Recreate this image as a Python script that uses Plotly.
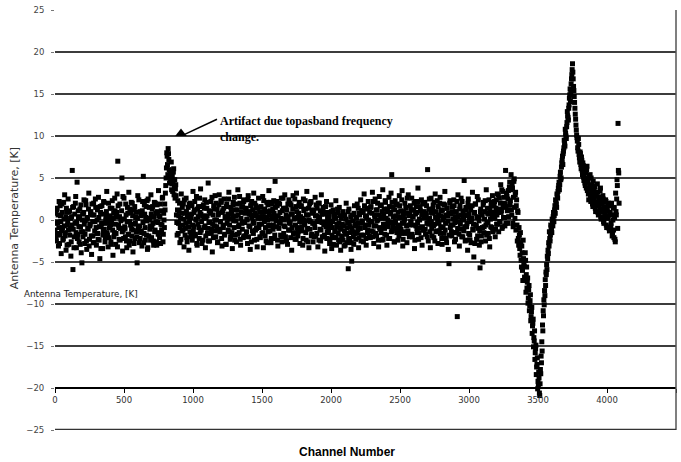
import plotly.graph_objects as go

STEP = 5  # channel spacing of the sampled points in each list

# ---- first pass of samples (channels start, start+5, ...) ----
seg_a_start = 0
seg_a = [
    -1.2, 0.8, -2.5, 1.4, -0.3, -3.1, 2.2, -1.8, 0.5, -4.0, 1.9, -0.9, -2.2, 0.1, 3.0, -1.5, -3.6, 0.9, -0.6, 2.5,
    -2.9, 1.1, -1.0, -4.3, 0.4, 5.9, -5.9, 1.6, -2.0, -0.4, 2.8, -3.3, 4.5, -1.7, 0.2, -2.6, 1.3, -0.8, -3.9, -5.1,
    0.7, -1.4, 2.4, -2.8, -0.1, 1.8, -3.5, 0.3, -1.1, 3.2, -2.3, -0.5, 1.0, -4.1, 0.6, -1.9, 2.0, -2.7, -0.2, 1.5,
    -3.0, 0.0, -1.6, 2.7, -2.4, -4.6, 0.9, -0.7, 1.7, -3.4, -1.3, 2.1, -0.4, -2.1, 0.5, 3.4, -1.8, -3.2, 0.2, -0.9,
    1.4, -2.6, -0.3, 2.3, -4.2, 0.8, -1.5, 1.1, -2.9, 0.4, 3.1, 7.0, -0.6, -2.3, 1.9, -1.0, 0.1, 5.0, -3.7, -1.2,
    2.6, -0.8, -2.0, 0.6, -3.3, 1.5, -1.7, 3.3, -0.2, -2.5, 0.9, -1.1, 2.0, -3.8, -0.5, 1.2, -2.2, 0.3, -1.4, -5.1,
    2.9, -0.9, -2.7, 1.0, -1.3, 0.5, -3.1, 2.2, 5.2, -1.6, 0.7, -2.4, 1.6, -0.1, -3.5, 2.5, -1.9, 0.2, -0.7, 3.0,
    -2.1, 1.3, -0.4, -3.0, 2.1, -1.2, 0.8, -2.6, 1.8, -0.3, 3.5, -1.5, 0.4, -2.8, 1.1, -0.6, 2.7, -1.7, 0.0, 1.9,
]

seg_b_start = 800
seg_b = [3.2, 5.0, 8.0, 6.6, 8.5, 7.2, 4.4, 5.8, 4.9, 3.6, 5.3, 4.6, 6.1, 3.9, 2.6, 4.2]

seg_c_start = 880
seg_c = [
    0.6, -1.8, 2.3, -0.4, 1.1, -2.7, 0.2, 3.1, -1.3, -0.6, 1.9, -3.2, 0.8, -1.0, 2.6, -2.1, 0.4, 1.5, -3.6, -0.2,
    2.0, -1.5, 0.7, -2.4, 3.4, -0.8, 1.2, -1.9, 0.1, 2.8, -3.0, -0.5, 1.6, -2.2, 0.9, 3.7, -1.2, -2.8, 0.5, 1.8,
    -0.9, 2.4, -3.3, 0.3, 1.4, -1.6, 4.4, -0.3, -2.5, 1.0, 2.2, -1.1, -3.8, 0.6, 1.7, -0.7, 2.9, -2.0, 0.0, 1.3,
    -2.6, 0.8, 3.0, -1.4, -0.2, 2.1, -3.1, 1.1, -0.9, 2.5, -1.7, 0.4, -2.9, 1.9, 0.2, -1.2, 3.3, -0.6, -2.3, 1.5,
    0.7, -3.4, 1.8, -0.1, 2.7, -1.8, 0.5, -2.6, 1.2, 3.6, -0.8, -1.5, 2.0, -3.0, 0.9, -0.4, 1.6, -2.1, 2.4, -0.3,
    -1.9, 1.4, 0.1, -2.8, 2.9, -0.7, 1.0, -3.5, 0.6, 2.2, -1.3, -0.2, 3.2, -2.4, 0.8, 1.7, -1.0, -3.2, 0.3, 2.6,
    -0.5, -2.0, 1.5, 0.2, -1.6, 2.8, -3.3, 0.9, 1.3, -0.9, -2.5, 2.1, 0.0, -1.4, 3.5, -0.6, 1.1, -2.7, 0.5, 1.9,
    -1.1, 2.3, -2.2, 4.6, 0.4, -0.8, 1.7, -3.1, 2.0, -0.3, 0.9, -1.8, 2.6, -2.6, 0.1, 1.4, -0.7, 3.0, -2.0, 0.6,
    1.2, -2.9, 0.3, 2.4, -1.2, -0.4, 1.8, -3.6, 0.7, 2.9, -1.5, 0.2, -2.3, 1.6, 3.2, -0.9, -1.9, 0.8, 2.1, -2.8,
    0.4, 1.7, -1.3, -3.0, 2.5, 0.0, -0.6, 1.3, -2.4, 3.4, -1.0, 0.6, -3.3, 1.9, -0.2, 2.2, -1.7, 0.9, -2.6, 1.1,
    -0.4, 2.7, -1.9, 0.5, 1.4, -3.2, 0.1, 2.0, -1.1, -2.5, 3.0, -0.3, 1.0, -2.0, 0.7, -3.7, 1.6, -0.8, -2.2, 0.3,
    -1.5, 0.9, -2.8, -0.2, 1.8, -3.4, -0.9, 1.2, -2.1, 0.4, -1.3, 2.3, -3.0, -0.5, 0.8, -2.4, 1.5, -1.0, -3.6, 0.2,
    -2.0, 1.0, -0.7, -3.1, 0.5, -1.6, 2.0, -2.7, -0.3, -5.8, 1.3, -2.2, -0.8, -3.5, -4.9, 0.6, -1.4, -2.9, 1.7, -0.5,
    -2.3, 0.3, 1.9, -1.2, -3.3, 0.8, -0.4, 2.4, -1.8, -0.1, 1.1, -2.6, 3.1, -0.9, 0.5, -3.0, 1.4, -1.5, 2.2, -0.6,
    0.9, -2.1, 1.6, -0.2, 3.3, -1.4, -2.8, 0.6, 2.5, -0.7, -1.9, 1.2, 0.0, -3.2, 2.8, -1.1, 0.4, 1.8, -2.4, 3.6,
    -0.5, 1.3, -1.7, 2.1, 0.2, -3.0, 1.0, -0.8, 2.7, -2.2, 0.7, 3.2, 5.4, -1.3, 1.5, -0.3, -2.6, 2.3, 0.5, -1.0,
    1.9, -2.4, 0.3, 2.9, -0.9, 1.1, -1.6, 3.5, -3.1, 0.6, -0.2, 2.0, -1.4, 1.4, -2.7, 0.8, 3.0, -0.6, -1.8, 1.7,
    -0.3, 2.6, -2.0, 0.4, 1.2, -3.4, 2.2, -0.7, 0.9, -1.5, 3.8, -2.3, 0.1, 1.6, -0.9, 2.4, -3.0, 0.7, -1.2, 1.0,
    2.1, -1.7, 0.5, -0.4, 6.0, -2.5, 1.3, 0.2, -3.3, 2.6, -1.0, 0.8, 1.8, -2.1, -0.5, 3.1, -1.4, 0.3, 2.3, -2.8,
    0.6, -1.3, 2.7, -0.8, 1.1, -2.9, 0.0, 1.9, -1.6, 3.4, -0.4, -2.2, 1.4, 0.5, -3.5, -5.2, 2.0, -0.9, 0.7, -1.9,
    1.5, -0.6, 2.4, -2.6, 0.3, 1.0, -1.5, -11.5, 3.0, -0.2, -3.1, 1.7, 0.6, -1.1, 2.2, -2.0, 0.1, 4.7, -0.8, -2.4,
    1.2, -0.4, -3.6, 2.5, 0.7, -1.8, 1.6, -2.7, 0.2, 3.3, -1.2, -4.4, 0.9, 1.9, -0.6, -2.3, 2.8, -1.0, 0.4, -3.0,
    -5.7, 1.3, -1.9, 0.6, -5.0, 2.1, -0.8, 1.0, -2.5, 3.6, -0.3, 0.8, -1.6, 2.4, -3.2, 0.1, 1.7, -0.9, 2.9, -1.3,
    0.5, 2.2, -2.0, 1.4, -0.5, 3.1, 0.9, -1.4, 2.6, -0.2, 4.2, 1.1, -1.0, 3.4, 0.3, 2.0, -0.7, 5.9, 1.6, 2.8,
    -0.4, 3.5, 1.2, 4.5,
]

seg_d_start = 3300
seg_d = [2.3, 5.4, 0.6, 3.8, -0.8, 4.6, 1.5, 3.0, -1.2, 2.4, -2.5, 0.9, -3.0, -1.8, -4.2, -2.7, -5.6, -3.9, -7.2, -4.6]

seg_e_start = 3400
seg_e = [
    -5.5, -7.2, -4.8, -6.5, -8.1, -6.9, -9.3, -7.8, -10.2, -8.9, -11.5, -10.4, -12.6, -11.8, -14.0, -13.2,
    -15.8, -14.9, -17.5, -16.4, -19.2, -18.1, -20.6, -19.5, -18.3, -17.0, -15.6, -13.2, -11.4, -10.1, -9.0,
    -7.8, -6.5, -5.9, -4.6, -4.0, -3.1, -2.2, -1.8, -0.9, -1.5, -0.3, 0.4, -0.2, 1.2, 0.8, 2.0, 1.5, 2.9,
    3.4, 4.1, 3.6, 5.2, 4.8, 6.3, 7.1, 6.6, 8.2, 9.5, 8.8, 10.3, 9.7, 11.6, 12.4, 11.9, 13.7, 14.9, 14.1,
    16.2, 17.3, 18.6, 16.8, 15.4, 14.0, 12.6, 11.3, 10.1, 9.4, 8.2, 9.0, 7.4, 8.1, 6.6, 7.5, 5.9, 6.8, 5.1,
    6.2, 4.4, 5.6, 3.8, 6.4, 4.9, 3.1, 5.3, 4.0, 2.7, 5.0, 3.4, 1.9, 4.6, 2.8, 3.9, 1.4, 3.2, 2.1, 4.3, 0.9,
    2.6, 1.7, 3.5, 0.4, 2.2, 1.1, 2.9, -0.2, 1.6, 0.7, 2.4, -0.6, 1.3, 0.2, 2.0, -1.0, 0.9, 1.8, -0.4, 0.6,
    -1.5, 1.4, -2.1, 0.3, -2.6, 1.0, 2.5, 4.1, 11.5, 5.6,
]

# ---- second pass of samples (channels offset by half a step) ----
seg_a2_start = 2.5
seg_a2 = [
    -0.4, -2.1, 1.2, -1.6, 0.6, -0.9, -2.8, 1.7, -0.2, -1.3, 0.9, -2.4, 2.1, -0.7, -1.9, 0.3, 1.4, -3.0, -0.1, -1.2,
    1.0, -1.8, 0.2, -2.6, -0.6, 1.5, -1.1, -3.3, 0.7, 2.0, -1.5, -0.3, -2.2, 1.1, -0.8, 0.4, -2.9, 1.8, -1.4, 0.0,
    -2.0, 0.9, -0.5, -1.7, 2.3, -2.5, 0.1, -1.0, 1.3, -3.1, -0.7, 0.8, -1.9, 1.9, -0.2, -2.7, 0.6, -1.3, 2.5, -0.9,
    -1.6, 1.2, -2.3, 0.3, -0.8, 1.6, -3.4, -0.4, 0.7, -1.8, 2.2, -1.1, -2.6, 0.0, 1.0, -1.5, -0.3, 2.0, -2.1, 0.5,
    -0.6, -2.9, 1.4, -1.2, 0.2, -2.0, 2.6, -0.5, -1.6, 0.9, -3.2, 1.7, -0.9, 0.4, -2.4, -0.1, 1.1, -1.4, 2.8, -2.2,
    0.1, -1.0, 1.9, -2.5, -0.2, 0.8, -1.7, -3.0, 1.3, -0.6, 2.1, -1.9, 0.5, -1.2, -2.8, 1.6, -0.4, 0.9, -2.0, 0.2,
    -1.3, 2.4, -0.7, -2.2, 0.6, -1.5, 1.1, -0.3, -2.7, 1.8, -0.9, 0.3, -1.8, 2.3, -3.3, 0.0, 1.5, -1.1, -2.4, 0.7,
    -0.8, 1.6, -2.5, 0.4, -1.4, 2.0, -0.2, -3.0, 1.0, -1.7, 0.5, -2.1, 1.9, -0.5, -1.2, 2.6, -2.6, 0.8, -0.9, 1.2,
]

seg_b2_start = 802.5
seg_b2 = [4.1, 6.2, 7.6, 5.4, 7.9, 6.0, 5.1, 4.7, 6.9, 4.3, 3.4, 5.7, 3.0, 4.8, 3.7, 2.9]

seg_c2_start = 882.5
seg_c2 = [
    -0.3, 1.2, -1.6, 0.5, 2.0, -0.9, -2.3, 0.8, 1.5, -1.2, 0.1, 2.4, -1.8, -0.4, 1.0, -2.6, 0.6, -0.8, 1.9, -1.4,
    0.3, -2.0, 1.7, -0.6, -1.3, 0.9, 2.2, -1.7, 0.0, -2.8, 1.3, 0.4, -0.9, 2.6, -1.5, 0.7, -0.2, 1.6, -2.4, 0.2,
    1.4, -0.7, -1.9, 2.1, 0.5, -1.0, -2.5, 1.1, -0.3, 0.8, -1.6, 2.7, -0.5, -2.1, 1.3, 0.0, -1.3, 2.0, -0.8, -2.7,
    0.6, 1.8, -1.1, -0.2, 2.3, -2.2, 0.9, -0.6, 1.4, -1.8, 0.3, -2.9, 1.6, -0.4, 0.7, 2.5, -1.4, 0.1, -2.0, 1.0,
    -1.5, 0.4, 2.1, -0.9, -2.4, 1.2, -0.1, 1.9, -1.7, 0.6, -0.6, 2.8, -2.3, 0.2, 1.5, -1.1, -0.3, 2.2, -1.9, 0.8,
    1.1, -1.4, 0.0, 2.4, -2.0, 0.7, -0.8, 1.7, -2.6, 0.3, 1.2, -1.6, -0.4, 2.0, -1.2, 0.5, -2.3, 1.4, 0.2, -0.9,
    0.9, -2.1, 1.6, -0.5, 0.4, -1.5, 2.3, -0.2, -1.9, 1.0, 0.3, -2.7, 1.8, -0.7, 0.6, -1.3, 2.1, -2.2, 0.1, 1.3,
    -0.6, 0.8, -1.8, 1.5, -0.1, 2.2, -2.4, 0.5, -1.0, 1.9, -0.4, 0.2, -2.0, 1.1, 2.6, -1.6, 0.0, -0.8, 1.4, -2.5,
    0.4, 1.9, -1.2, -0.3, 2.0, -2.1, 0.7, -0.9, 1.3, -1.7, 0.1, 2.5, -0.6, -2.3, 1.0, 0.3, -1.4, 1.7, -0.2, -1.0,
    1.6, -0.8, 0.2, -2.2, 1.1, -0.5, 2.3, -1.5, 0.6, -0.1, -2.6, 1.4, 0.0, -1.1, 2.1, -1.9, 0.8, -0.4, 1.2, -2.0,
    -0.9, 0.5, 1.8, -1.6, -0.2, 2.0, -2.4, 0.3, 1.1, -1.2, 0.7, -2.0, 1.5, -0.6, -1.8, 0.9, -0.3, 2.2, -1.4, -0.7,
    -1.2, 0.4, -2.3, -0.6, 1.0, -1.8, -0.2, -2.9, 0.7, -1.4, 0.2, -2.1, -0.8, 1.3, -1.6, -0.4, -2.6, 0.5, -1.1, -1.9,
    -0.5, -2.4, 0.6, -1.3, -3.0, 0.1, -1.7, -0.9, 1.0, -2.2, -0.3, -1.5, 0.4, -2.7, -1.0, -0.1, -2.0, 0.8, -1.6, -0.7,
    0.2, -1.5, -0.4, 1.4, -2.1, 0.6, -1.0, -2.5, 1.1, -0.3, 0.9, -1.8, 1.7, -0.6, -2.2, 0.3, 1.3, -1.2, 0.0, -1.9,
    -0.2, 1.5, -1.3, 0.8, -2.0, 2.2, -0.7, 0.4, -1.6, 1.2, -0.1, 2.0, -2.4, 0.6, -0.9, 1.7, -1.5, 0.2, 1.0, -2.3,
    0.7, -1.0, 2.3, -0.5, -1.8, 1.3, 0.0, -2.2, 1.6, -0.3, 0.9, -1.4, 2.1, -0.8, 0.4, -2.6, 1.2, -0.1, 1.8, -1.5,
    -0.6, 0.9, -1.9, 1.7, 0.3, -1.1, 2.4, -0.4, -2.3, 1.0, 0.1, -1.6, 1.5, -0.7, 2.6, -1.3, 0.5, -2.0, 0.8, -0.2,
    1.2, -1.7, 0.4, -0.6, 2.0, -2.4, 0.7, 1.6, -1.0, -0.3, 2.2, -1.5, 0.0, 1.1, -2.1, 0.6, -0.8, 1.9, -1.2, 0.3,
    -1.1, 0.8, 1.7, -2.0, 0.2, -0.5, 2.5, -1.4, 0.9, -0.2, -1.9, 1.3, -0.7, 2.1, -2.5, 0.4, 1.0, -1.3, 0.0, 1.6,
    -0.4, 2.0, -1.6, 0.5, -2.2, 1.2, -0.9, 0.3, 1.8, -1.2, 0.6, -2.7, 1.4, -0.1, 0.8, -1.8, 2.3, -0.6, -1.4, 0.9,
    0.1, -1.5, 1.7, -0.3, -2.3, 0.9, 2.2, -1.0, 0.4, -1.7, 1.3, -0.5, 2.6, -2.0, 0.0, 1.1, -1.3, 0.6, -2.5, 1.5,
    -0.8, 0.5, 2.0, -1.6, 0.2, -2.4, 1.2, -0.2, 1.7, -1.1, -0.5, 0.8, -2.8, 1.9, -0.7, 0.3, -1.9, 2.4, -0.1, -1.3,
    1.0, -2.6, 0.6, -0.9, 1.8, -1.5, 0.1, 2.3, -0.6, -1.8, 1.4, -0.3, 0.7, -2.2, 1.2, -0.8, 2.1, 0.4, -1.4, 0.9,
    1.7, 0.2, -1.1, 2.4, 0.6, -0.5, 3.0, 1.3, -0.2, 2.0, 0.9, 3.6, -0.8, 1.5, 2.7, 0.3, 1.9, -0.4, 3.2, 1.1,
    2.5, 0.4, 3.9, 1.8,
]

seg_d2_start = 3302.5
seg_d2 = [3.6, 1.2, 4.3, -0.4, 2.7, 4.9, 0.2, 3.3, 1.7, -0.6, 1.1, -2.2, -0.9, -3.4, -1.5, -4.8, -3.1, -6.0, -2.4, -5.2]

seg_e2_start = 3402.5
seg_e2 = [
    -6.8, -3.9, -8.6, -5.6, -7.4, -9.9, -8.3, -10.8, -9.6, -12.0,
    -10.9, -13.5, -12.3, -15.1, -14.4, -16.6, -15.3, -18.4, -17.2, -20.1,
    -19.7, -18.8, -20.9, -17.8, -16.2, -14.5, -12.5, -10.8, -9.5, -8.4,
    -7.1, -6.2, -5.3, -4.3, -3.6, -2.7, -1.4, -2.5, -0.6, -1.1,
    0.1, -0.7, 0.9, 0.5, 1.7, 2.4, 1.9, 3.1, 2.6, 3.8,
    4.5, 4.2, 5.7, 5.0, 6.8, 7.6, 7.9, 8.6, 9.1, 10.8,
    10.0, 11.1, 12.9, 12.2, 13.3, 14.5, 15.6, 15.1, 16.8, 17.9,
    17.6, 15.9, 14.7, 13.3, 12.0, 10.7, 9.8, 8.6, 9.7, 7.8,
    6.9, 7.9, 6.1, 7.1, 5.4, 6.5, 4.7, 5.9, 4.1, 5.0,
    6.0, 3.5, 4.5, 2.4, 3.7, 5.4, 2.2, 4.2, 3.0, 1.6,
    3.6, 2.4, 4.0, 1.0, 2.9, 1.9, 3.3, 0.6, 2.7, 1.3,
    3.8, 0.1, 1.9, 1.0, 2.5, -0.4, 1.5, 0.3, 2.2, -0.9,
    1.1, 0.5, 1.7, -1.3, 0.8, -0.8, 2.0, -1.9, 0.0, -1.2,
    1.5, -2.3, 3.2, 0.6, 4.8, -1.0, 5.9, 2.0,
]

segments = [
    (seg_a_start, seg_a), (seg_b_start, seg_b), (seg_c_start, seg_c),
    (seg_d_start, seg_d), (seg_e_start, seg_e),
    (seg_a2_start, seg_a2), (seg_b2_start, seg_b2), (seg_c2_start, seg_c2),
    (seg_d2_start, seg_d2), (seg_e2_start, seg_e2),
]

channels, temps = [], []
for start, vals in segments:
    channels += [start + STEP * i for i in range(len(vals))]
    temps += vals

y_ticks = [-25, -20, -15, -10, -5, 0, 5, 10, 15, 20, 25]
x_ticks = [0, 500, 1000, 1500, 2000, 2500, 3000, 3500, 4000, 4500]

artifact_marker = (913, 10.3)
arrow_tail = (1174, 12.0)
arrow_tip = (928, 10.1)
note_pos = (1178, 12.9)

fig = go.Figure()
fig.add_trace(go.Scatter(
    x=channels, y=temps, mode="markers",
    marker=dict(symbol="square", size=5, color="black", line=dict(width=0)),
    showlegend=False, hoverinfo="skip",
))
fig.add_trace(go.Scatter(
    x=[artifact_marker[0]], y=[artifact_marker[1]], mode="markers",
    marker=dict(symbol="triangle-up", size=10, color="black"),
    showlegend=False, hoverinfo="skip",
))

grid_col = "#3c3c3c"
fig.update_layout(
    width=681, height=462,
    margin=dict(l=55, r=5, t=8, b=32),
    paper_bgcolor="white", plot_bgcolor="white",
    xaxis=dict(
        range=[0, 4500], tickvals=x_ticks, showgrid=False, zeroline=False,
        showline=True, linecolor="black", linewidth=1.5,
        ticks="outside", ticklen=4, tickcolor="black", tickwidth=1,
        anchor="free", position=0.1,
        tickfont=dict(family="DejaVu Sans", size=8.5, color="#333"),
    ),
    yaxis=dict(
        range=[-25, 25], tickvals=y_ticks, showgrid=True, gridcolor=grid_col,
        gridwidth=1.6, zeroline=False, showline=False,
        ticks="outside", ticklen=3, tickcolor="#777", ticklabelstandoff=5,
        tickfont=dict(family="DejaVu Sans", size=8.5, color="#444"),
    ),
    shapes=[
        dict(type="line", xref="paper", yref="paper", x0=1, x1=1, y0=0, y1=1,
             line=dict(color="#555", width=1.5)),
        dict(type="line", xref="paper", yref="y", x0=0, x1=1, y0=-25, y1=-25,
             line=dict(color="#333", width=2.5)),
        dict(type="line", xref="x", yref="y", x0=arrow_tail[0], y0=arrow_tail[1],
             x1=arrow_tip[0], y1=arrow_tip[1], line=dict(color="black", width=1.5)),
    ],
    annotations=[
        dict(text="<b>Artifact due topasband frequency<br>change.</b>",
             x=note_pos[0], y=note_pos[1], xref="x", yref="y",
             xanchor="left", yanchor="top", align="left", showarrow=False,
             font=dict(family="Liberation Serif", size=12, color="black")),
        dict(text="Antenna Temperature, [K]", textangle=-90,
             x=-0.064, y=0.505, xref="paper", yref="paper",
             xanchor="center", yanchor="middle", showarrow=False,
             font=dict(family="DejaVu Sans", size=11, color="#333")),
        dict(text="Antenna Temperature, [K]",
             x=-0.053, y=0.325, xref="paper", yref="paper",
             xanchor="left", yanchor="middle", showarrow=False,
             font=dict(family="DejaVu Sans", size=8.8, color="#222")),
        dict(text="<b>Channel Number</b>",
             x=0.47, y=-0.052, xref="paper", yref="paper",
             xanchor="center", yanchor="middle", showarrow=False,
             font=dict(family="Liberation Sans", size=12, color="black")),
    ],
)

fig.write_html("out.html", config={"displayModeBar": False})
